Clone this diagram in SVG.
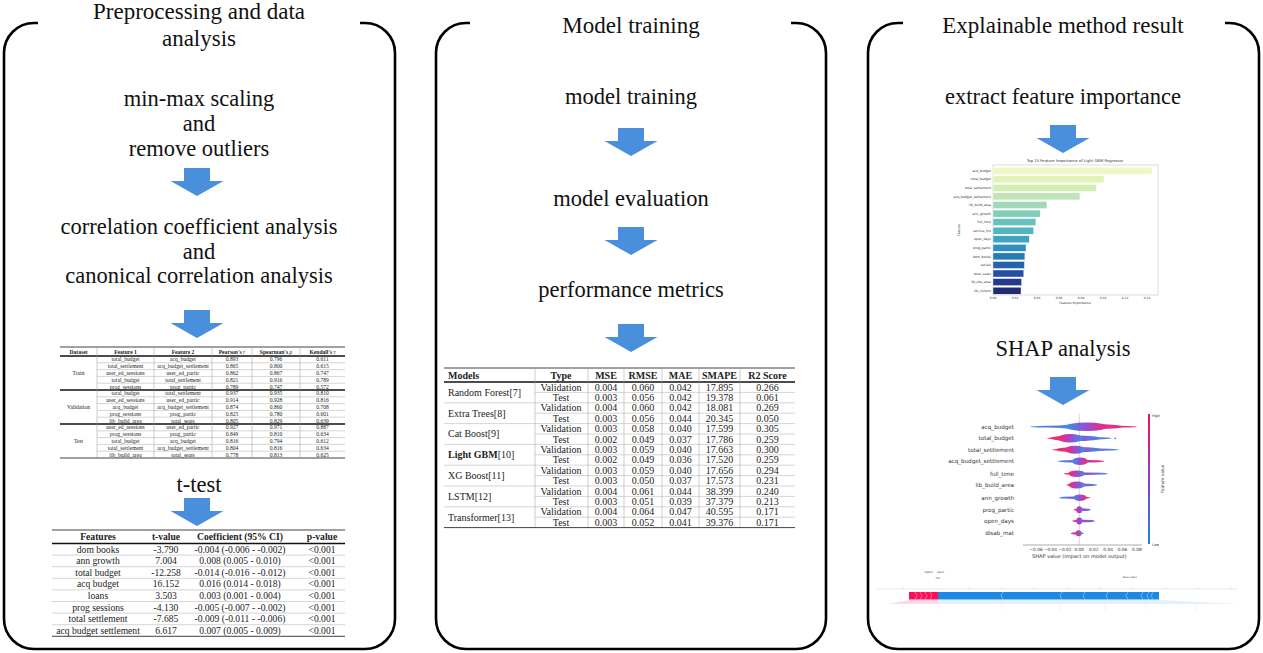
<svg xmlns="http://www.w3.org/2000/svg" width="1263" height="653" viewBox="0 0 1263 653">
<style>
.panel{fill:none;stroke:#000;stroke-width:2.6}
.ttl{font-family:"Liberation Serif",serif;font-size:23px;text-anchor:middle;fill:#111}
.lbl{font-family:"Liberation Serif",serif;font-size:22.5px;text-anchor:middle;fill:#111}
.arrow{fill:#4a8fdc}
.tb{font-family:"Liberation Serif",serif;text-anchor:middle;fill:#222}
.c5{font-size:5.6px}
.c9{font-size:9.6px}
.c10{font-size:10px}
.b{font-weight:bold}
.rule{stroke:#111;stroke-width:0.8}
.thick{stroke:#111;stroke-width:1.6}
.thin{stroke:#aaa;stroke-width:0.5}
.vl{stroke:#999;stroke-width:0.5}
.mp{font-family:"DejaVu Sans",sans-serif;fill:#333}
</style>
<defs>
<path id="arr" d="M -13 0 H 13 V 13 H 26.5 L 0 28 L -26.5 13 H -13 Z"/>
<linearGradient id="gBR" x1="0" x2="1" y1="0" y2="0"><stop offset="0" stop-color="#1e88e5"/><stop offset="0.5" stop-color="#8a3ccf"/><stop offset="1" stop-color="#ff0d57"/></linearGradient>
<linearGradient id="gRB" x1="0" x2="1" y1="0" y2="0"><stop offset="0" stop-color="#ff0d57"/><stop offset="0.5" stop-color="#9b33c4"/><stop offset="1" stop-color="#1e88e5"/></linearGradient>
<linearGradient id="gMX" x1="0" x2="1" y1="0" y2="0"><stop offset="0" stop-color="#e01a6e"/><stop offset="0.5" stop-color="#9b33c4"/><stop offset="1" stop-color="#5a5ee0"/></linearGradient>
<linearGradient id="gCB" x1="0" x2="0" y1="0" y2="1"><stop offset="0" stop-color="#ff0d57"/><stop offset="0.5" stop-color="#8a3ccf"/><stop offset="1" stop-color="#1e88e5"/></linearGradient>
</defs>

<g id="panel-preprocessing">
<path class="panel" d="M 38 23 L 34 23 A 30 30 0 0 0 4 53 L 4 619 A 30 30 0 0 0 34 649 L 365 649 A 30 30 0 0 0 395 619 L 395 53 A 30 30 0 0 0 365 23 L 360 23"/>
<text class="ttl" x="199" y="19">Preprocessing and data</text>
<text class="ttl" x="199" y="46">analysis</text>
</g>
<g id="panel-training">
<path class="panel" d="M 470 23 L 466 23 A 30 30 0 0 0 436 53 L 436 619 A 30 30 0 0 0 466 649 L 796 649 A 30 30 0 0 0 826 619 L 826 53 A 30 30 0 0 0 796 23 L 791 23"/>
<text class="ttl" x="631" y="33">Model training</text>
</g>
<g id="panel-explain">
<path class="panel" d="M 903 23 L 898 23 A 30 30 0 0 0 868 53 L 868 619 A 30 30 0 0 0 898 649 L 1229 649 A 30 30 0 0 0 1259 619 L 1259 53 A 30 30 0 0 0 1229 23 L 1225 23"/>
<text class="ttl" x="1063" y="33">Explainable method result</text>
</g>

<g id="node-minmax"><text class="lbl" x="199" y="106">min-max scaling</text><text class="lbl" x="199" y="131">and</text><text class="lbl" x="199" y="156">remove outliers</text></g>
<g id="node-correlation"><text class="lbl" x="199" y="234">correlation coefficient analysis</text><text class="lbl" x="199" y="259">and</text><text class="lbl" x="199" y="283">canonical correlation analysis</text></g>
<g id="node-ttest"><text class="lbl" x="199" y="492">t-test</text></g>
<g id="node-model-training"><text class="lbl" x="631" y="104">model training</text></g>
<g id="node-model-evaluation"><text class="lbl" x="631" y="206">model evaluation</text></g>
<g id="node-performance"><text class="lbl" x="631" y="297">performance metrics</text></g>
<g id="node-feature-importance"><text class="lbl" x="1063" y="104">extract feature importance</text></g>
<g id="node-shap"><text class="lbl" x="1063" y="356">SHAP analysis</text></g>

<g id="connectors" class="arrow">
<use href="#arr" x="197" y="168"/>
<use href="#arr" x="197" y="310"/>
<use href="#arr" x="197" y="498"/>
<use href="#arr" x="631" y="128"/>
<use href="#arr" x="631" y="227"/>
<use href="#arr" x="631" y="324"/>
<use href="#arr" x="1063" y="125"/>
<use href="#arr" x="1063" y="377"/>
</g>

<g id="table-correlation">
<line class="rule" x1="60" y1="347" x2="345" y2="347"/>
<line class="thick" x1="60" y1="356" x2="345" y2="356"/>
<line class="thick" x1="60" y1="390" x2="345" y2="390"/>
<line class="thick" x1="60" y1="424" x2="345" y2="424"/>
<line class="rule" x1="60" y1="458" x2="345" y2="458"/>
<g class="thin">
<line x1="97" y1="362.8" x2="345" y2="362.8"/><line x1="97" y1="369.6" x2="345" y2="369.6"/><line x1="97" y1="376.4" x2="345" y2="376.4"/><line x1="97" y1="383.2" x2="345" y2="383.2"/>
<line x1="97" y1="396.8" x2="345" y2="396.8"/><line x1="97" y1="403.6" x2="345" y2="403.6"/><line x1="97" y1="410.4" x2="345" y2="410.4"/><line x1="97" y1="417.2" x2="345" y2="417.2"/>
<line x1="97" y1="430.8" x2="345" y2="430.8"/><line x1="97" y1="437.6" x2="345" y2="437.6"/><line x1="97" y1="444.4" x2="345" y2="444.4"/><line x1="97" y1="451.2" x2="345" y2="451.2"/>
</g>
<g class="vl"><line x1="97" y1="347" x2="97" y2="458"/><line x1="154" y1="347" x2="154" y2="458"/><line x1="212" y1="347" x2="212" y2="458"/><line x1="252" y1="347" x2="252" y2="458"/><line x1="300" y1="347" x2="300" y2="458"/></g>
<g class="tb c5 b">
<text x="78.5" y="353.5">Dataset</text><text x="125.5" y="353.5">Feature 1</text><text x="183" y="353.5">Feature 2</text><text x="232" y="353.5">Pearson's <tspan font-style="italic" font-weight="normal">r</tspan></text><text x="276" y="353.5">Spearman's <tspan font-style="italic" font-weight="normal">ρ</tspan></text><text x="322.5" y="353.5">Kendall's <tspan font-style="italic" font-weight="normal">τ</tspan></text>
</g>
<g class="tb c5">
<text x="78.5" y="375">Train</text><text x="78.5" y="409">Validation</text><text x="78.5" y="443">Test</text>
<text x="125.5" y="361.4">total_budget</text><text x="183" y="361.4">acq_budget</text><text x="232" y="361.4">0.893</text><text x="276" y="361.4">0.796</text><text x="322.5" y="361.4">0.611</text>
<text x="125.5" y="368.2">total_settlement</text><text x="183" y="368.2">acq_budget_settlement</text><text x="232" y="368.2">0.865</text><text x="276" y="368.2">0.800</text><text x="322.5" y="368.2">0.615</text>
<text x="125.5" y="375">user_ed_sessions</text><text x="183" y="375">user_ed_partic</text><text x="232" y="375">0.862</text><text x="276" y="375">0.867</text><text x="322.5" y="375">0.747</text>
<text x="125.5" y="381.8">total_budget</text><text x="183" y="381.8">total_settlement</text><text x="232" y="381.8">0.821</text><text x="276" y="381.8">0.916</text><text x="322.5" y="381.8">0.789</text>
<text x="125.5" y="388.6">prog_sessions</text><text x="183" y="388.6">prog_partic</text><text x="232" y="388.6">0.789</text><text x="276" y="388.6">0.747</text><text x="322.5" y="388.6">0.572</text>
<text x="125.5" y="395.4">total_budget</text><text x="183" y="395.4">total_settlement</text><text x="232" y="395.4">0.937</text><text x="276" y="395.4">0.935</text><text x="322.5" y="395.4">0.810</text>
<text x="125.5" y="402.2">user_ed_sessions</text><text x="183" y="402.2">user_ed_partic</text><text x="232" y="402.2">0.914</text><text x="276" y="402.2">0.928</text><text x="322.5" y="402.2">0.816</text>
<text x="125.5" y="409">acq_budget</text><text x="183" y="409">acq_budget_settlement</text><text x="232" y="409">0.874</text><text x="276" y="409">0.860</text><text x="322.5" y="409">0.708</text>
<text x="125.5" y="415.8">prog_sessions</text><text x="183" y="415.8">prog_partic</text><text x="232" y="415.8">0.825</text><text x="276" y="415.8">0.780</text><text x="322.5" y="415.8">0.601</text>
<text x="125.5" y="422.6">lib_build_area</text><text x="183" y="422.6">total_seats</text><text x="232" y="422.6">0.805</text><text x="276" y="422.6">0.829</text><text x="322.5" y="422.6">0.639</text>
<text x="125.5" y="429.4">user_ed_sessions</text><text x="183" y="429.4">user_ed_partic</text><text x="232" y="429.4">0.927</text><text x="276" y="429.4">0.971</text><text x="322.5" y="429.4">0.887</text>
<text x="125.5" y="436.2">prog_sessions</text><text x="183" y="436.2">prog_partic</text><text x="232" y="436.2">0.849</text><text x="276" y="436.2">0.810</text><text x="322.5" y="436.2">0.634</text>
<text x="125.5" y="443">total_budget</text><text x="183" y="443">acq_budget</text><text x="232" y="443">0.816</text><text x="276" y="443">0.794</text><text x="322.5" y="443">0.612</text>
<text x="125.5" y="449.8">total_settlement</text><text x="183" y="449.8">acq_budget_settlement</text><text x="232" y="449.8">0.804</text><text x="276" y="449.8">0.816</text><text x="322.5" y="449.8">0.634</text>
<text x="125.5" y="456.6">lib_build_area</text><text x="183" y="456.6">total_seats</text><text x="232" y="456.6">0.778</text><text x="276" y="456.6">0.813</text><text x="322.5" y="456.6">0.625</text>
</g>
</g>

<g id="table-ttest">
<line class="rule" x1="52" y1="530" x2="345" y2="530"/>
<line class="thick" x1="52" y1="543.5" x2="345" y2="543.5"/>
<g class="thin"><line x1="52" y1="555.1" x2="345" y2="555.1"/><line x1="52" y1="566.7" x2="345" y2="566.7"/><line x1="52" y1="578.3" x2="345" y2="578.3"/><line x1="52" y1="589.9" x2="345" y2="589.9"/><line x1="52" y1="601.5" x2="345" y2="601.5"/><line x1="52" y1="613.1" x2="345" y2="613.1"/><line x1="52" y1="624.7" x2="345" y2="624.7"/></g>
<line class="rule" x1="52" y1="636.3" x2="345" y2="636.3" stroke="#888"/>
<g class="tb c9 b"><text x="98" y="540.3">Features</text><text x="166" y="540.3">t-value</text><text x="240" y="540.3">Coefficient (95% CI)</text><text x="322" y="540.3">p-value</text></g>
<g class="tb c9">
<text x="98" y="552.6">dom books</text><text x="166" y="552.6">-3.790</text><text x="240" y="552.6">-0.004 (-0.006 - -0.002)</text><text x="322" y="552.6">&lt;0.001</text>
<text x="98" y="564.2">ann growth</text><text x="166" y="564.2">7.004</text><text x="240" y="564.2">0.008 (0.005 - 0.010)</text><text x="322" y="564.2">&lt;0.001</text>
<text x="98" y="575.8">total budget</text><text x="166" y="575.8">-12.258</text><text x="240" y="575.8">-0.014 (-0.016 - -0.012)</text><text x="322" y="575.8">&lt;0.001</text>
<text x="98" y="587.4">acq budget</text><text x="166" y="587.4">16.152</text><text x="240" y="587.4">0.016 (0.014 - 0.018)</text><text x="322" y="587.4">&lt;0.001</text>
<text x="98" y="599">loans</text><text x="166" y="599">3.503</text><text x="240" y="599">0.003 (0.001 - 0.004)</text><text x="322" y="599">&lt;0.001</text>
<text x="98" y="610.6">prog sessions</text><text x="166" y="610.6">-4.130</text><text x="240" y="610.6">-0.005 (-0.007 - -0.002)</text><text x="322" y="610.6">&lt;0.001</text>
<text x="98" y="622.2">total settlement</text><text x="166" y="622.2">-7.685</text><text x="240" y="622.2">-0.009 (-0.011 - -0.006)</text><text x="322" y="622.2">&lt;0.001</text>
<text x="98" y="633.8">acq budget settlement</text><text x="166" y="633.8">6.617</text><text x="240" y="633.8">0.007 (0.005 - 0.009)</text><text x="322" y="633.8">&lt;0.001</text>
</g>
</g>

<g id="table-metrics">
<line class="rule" x1="444" y1="368" x2="795" y2="368"/>
<line class="thick" x1="444" y1="382" x2="795" y2="382"/>
<g class="vl"><line x1="535" y1="368" x2="535" y2="527.6"/><line x1="588" y1="368" x2="588" y2="527.6"/><line x1="624" y1="368" x2="624" y2="527.6"/><line x1="662" y1="368" x2="662" y2="527.6"/><line x1="699" y1="368" x2="699" y2="527.6"/><line x1="740" y1="368" x2="740" y2="527.6"/></g>
<g class="thin">
<line x1="535" y1="392.4" x2="795" y2="392.4"/><line x1="444" y1="402.8" x2="795" y2="402.8"/>
<line x1="535" y1="413.2" x2="795" y2="413.2"/><line x1="444" y1="423.6" x2="795" y2="423.6"/>
<line x1="535" y1="434" x2="795" y2="434"/><line x1="444" y1="444.4" x2="795" y2="444.4"/>
<line x1="535" y1="454.8" x2="795" y2="454.8"/><line x1="444" y1="465.2" x2="795" y2="465.2"/>
<line x1="535" y1="475.6" x2="795" y2="475.6"/><line x1="444" y1="486" x2="795" y2="486"/>
<line x1="535" y1="496.4" x2="795" y2="496.4"/><line x1="444" y1="506.8" x2="795" y2="506.8"/>
<line x1="535" y1="517.2" x2="795" y2="517.2"/>
</g>
<line class="rule" x1="444" y1="527.6" x2="795" y2="527.6" stroke="#888"/>
<g class="tb c10 b"><text x="448" y="379" text-anchor="start">Models</text><text x="561" y="379">Type</text><text x="606" y="379">MSE</text><text x="643" y="379">RMSE</text><text x="680.5" y="379">MAE</text><text x="719.5" y="379">SMAPE</text><text x="767.5" y="379">R2 Score</text></g>
<g class="tb c10" text-anchor="start">
<text x="448" y="395.8" text-anchor="start">Random Forest[7]</text>
<text x="448" y="416.6" text-anchor="start">Extra Trees[8]</text>
<text x="448" y="437.4" text-anchor="start">Cat Boost[9]</text>
<text x="448" y="458.2" text-anchor="start"><tspan font-weight="bold">Light GBM</tspan>[10]</text>
<text x="448" y="479" text-anchor="start">XG Boost[11]</text>
<text x="448" y="499.8" text-anchor="start">LSTM[12]</text>
<text x="448" y="520.6" text-anchor="start">Transformer[13]</text>
</g>
<g class="tb c10">
<text x="561" y="390.6">Validation</text><text x="606" y="390.6">0.004</text><text x="643" y="390.6">0.060</text><text x="680.5" y="390.6">0.042</text><text x="719.5" y="390.6">17.895</text><text x="767.5" y="390.6">0.266</text>
<text x="561" y="401">Test</text><text x="606" y="401">0.003</text><text x="643" y="401">0.056</text><text x="680.5" y="401">0.042</text><text x="719.5" y="401">19.378</text><text x="767.5" y="401">0.061</text>
<text x="561" y="411.4">Validation</text><text x="606" y="411.4">0.004</text><text x="643" y="411.4">0.060</text><text x="680.5" y="411.4">0.042</text><text x="719.5" y="411.4">18.081</text><text x="767.5" y="411.4">0.269</text>
<text x="561" y="421.8">Test</text><text x="606" y="421.8">0.003</text><text x="643" y="421.8">0.056</text><text x="680.5" y="421.8">0.044</text><text x="719.5" y="421.8">20.345</text><text x="767.5" y="421.8">0.050</text>
<text x="561" y="432.2">Validation</text><text x="606" y="432.2">0.003</text><text x="643" y="432.2">0.058</text><text x="680.5" y="432.2">0.040</text><text x="719.5" y="432.2">17.599</text><text x="767.5" y="432.2">0.305</text>
<text x="561" y="442.6">Test</text><text x="606" y="442.6">0.002</text><text x="643" y="442.6">0.049</text><text x="680.5" y="442.6">0.037</text><text x="719.5" y="442.6">17.786</text><text x="767.5" y="442.6">0.259</text>
<text x="561" y="453">Validation</text><text x="606" y="453">0.003</text><text x="643" y="453">0.059</text><text x="680.5" y="453">0.040</text><text x="719.5" y="453">17.663</text><text x="767.5" y="453">0.300</text>
<text x="561" y="463.4">Test</text><text x="606" y="463.4">0.002</text><text x="643" y="463.4">0.049</text><text x="680.5" y="463.4">0.036</text><text x="719.5" y="463.4">17.520</text><text x="767.5" y="463.4">0.259</text>
<text x="561" y="473.8">Validation</text><text x="606" y="473.8">0.003</text><text x="643" y="473.8">0.059</text><text x="680.5" y="473.8">0.040</text><text x="719.5" y="473.8">17.656</text><text x="767.5" y="473.8">0.294</text>
<text x="561" y="484.2">Test</text><text x="606" y="484.2">0.003</text><text x="643" y="484.2">0.050</text><text x="680.5" y="484.2">0.037</text><text x="719.5" y="484.2">17.573</text><text x="767.5" y="484.2">0.231</text>
<text x="561" y="494.6">Validation</text><text x="606" y="494.6">0.004</text><text x="643" y="494.6">0.061</text><text x="680.5" y="494.6">0.044</text><text x="719.5" y="494.6">38.399</text><text x="767.5" y="494.6">0.240</text>
<text x="561" y="505">Test</text><text x="606" y="505">0.003</text><text x="643" y="505">0.051</text><text x="680.5" y="505">0.039</text><text x="719.5" y="505">37.379</text><text x="767.5" y="505">0.213</text>
<text x="561" y="515.4">Validation</text><text x="606" y="515.4">0.004</text><text x="643" y="515.4">0.064</text><text x="680.5" y="515.4">0.047</text><text x="719.5" y="515.4">40.595</text><text x="767.5" y="515.4">0.171</text>
<text x="561" y="525.8">Test</text><text x="606" y="525.8">0.003</text><text x="643" y="525.8">0.052</text><text x="680.5" y="525.8">0.041</text><text x="719.5" y="525.8">39.376</text><text x="767.5" y="525.8">0.171</text>
</g>
</g>

<g id="chart-feature-importance">
<text class="mp" x="1075" y="162" font-size="3.8" text-anchor="middle">Top 15 Feature Importance of Light GBM Regressor</text>
<rect x="993" y="165" width="165" height="130" fill="#fff" stroke="#bbb" stroke-width="0.5"/>
<g stroke="#fff" stroke-width="0.4">
<rect x="993" y="167.2" width="159" height="7" fill="#eef8c4"/>
<rect x="993" y="175.8" width="111" height="7" fill="#e2f3b7"/>
<rect x="993" y="184.4" width="103.4" height="7" fill="#d3eeb3"/>
<rect x="993" y="192.9" width="86.9" height="7" fill="#bde5b5"/>
<rect x="993" y="201.5" width="53.9" height="7" fill="#a0d8b8"/>
<rect x="993" y="210.1" width="47.3" height="7" fill="#85cdbb"/>
<rect x="993" y="218.6" width="42.9" height="7" fill="#6ac2be"/>
<rect x="993" y="227.2" width="40.7" height="7" fill="#52b5c1"/>
<rect x="993" y="235.8" width="36.3" height="7" fill="#3ea4c2"/>
<rect x="993" y="244.3" width="33" height="7" fill="#2f8fbe"/>
<rect x="993" y="252.9" width="31.9" height="7" fill="#2879b5"/>
<rect x="993" y="261.5" width="31.4" height="7" fill="#2563ac"/>
<rect x="993" y="270" width="30.8" height="7" fill="#254ea0"/>
<rect x="993" y="278.6" width="28.6" height="7" fill="#243a8e"/>
<rect x="993" y="287.2" width="28" height="7" fill="#1f2c6d"/>
</g>
<g class="mp" font-size="3.2" text-anchor="end">
<text x="991" y="171.8">acq_budget</text><text x="991" y="180.4">total_budget</text><text x="991" y="189">total_settlement</text><text x="991" y="197.5">acq_budget_settlement</text><text x="991" y="206.1">lib_build_area</text><text x="991" y="214.7">ann_growth</text><text x="991" y="223.2">full_time</text><text x="991" y="231.8">service_hrs</text><text x="991" y="240.4">open_days</text><text x="991" y="248.9">prog_partic</text><text x="991" y="257.5">dom_books</text><text x="991" y="266.1">serials</text><text x="991" y="274.6">total_seats</text><text x="991" y="283.2">lib_site_area</text><text x="991" y="291.8">lib_visitors</text>
</g>
<g class="mp" font-size="3" text-anchor="middle">
<text x="993" y="299">0.00</text><text x="1015" y="299">0.02</text><text x="1037" y="299">0.04</text><text x="1059" y="299">0.06</text><text x="1081" y="299">0.08</text><text x="1103" y="299">0.10</text><text x="1125" y="299">0.12</text><text x="1147" y="299">0.14</text>
</g>
<text class="mp" x="1075" y="303.5" font-size="3.2" text-anchor="middle">Feature Importance</text>
<text class="mp" x="960" y="230" font-size="3.2" text-anchor="middle" transform="rotate(-90 960 230)">Feature</text>
</g>

<g id="chart-shap">
<line x1="1079.3" y1="414" x2="1079.3" y2="545" stroke="#bbb" stroke-width="0.6"/>
<g class="mp" font-size="5.6" text-anchor="end">
<text x="1014" y="428.7">acq_budget</text><text x="1014" y="440.3">total_budget</text><text x="1014" y="451.7">total_settlement</text><text x="1014" y="463.3">acq_budget_settlement</text><text x="1014" y="475.7">full_time</text><text x="1014" y="487">lib_build_area</text><text x="1014" y="499.7">ann_growth</text><text x="1014" y="511.7">prog_partic</text><text x="1014" y="523">open_days</text><text x="1014" y="535.3">disab_mat</text>
</g>
<g opacity="0.9">
<ellipse cx="1083.6" cy="426.7" rx="53.3" ry="1.3" fill="url(#gBR)"/>
<ellipse cx="1090.1" cy="426.7" rx="32.4" ry="2.6" fill="url(#gBR)"/>
<ellipse cx="1086.5" cy="426.7" rx="21.6" ry="4.2" fill="url(#gBR)"/>
<ellipse cx="1079.3" cy="438.3" rx="32.4" ry="1.4" fill="url(#gRB)"/>
<ellipse cx="1075.7" cy="438.3" rx="25.2" ry="2.8" fill="url(#gRB)"/>
<ellipse cx="1070.3" cy="438.3" rx="12.6" ry="4.3" fill="url(#gRB)"/>
<circle cx="1115.3" cy="438.3" r="0.9" fill="#1e88e5"/>
<ellipse cx="1085.4" cy="449.7" rx="33.5" ry="1.3" fill="url(#gRB)"/>
<ellipse cx="1078.6" cy="449.7" rx="22.3" ry="2.6" fill="url(#gRB)"/>
<ellipse cx="1075" cy="449.7" rx="10.1" ry="4" fill="url(#gRB)"/>
<ellipse cx="1081.1" cy="461.3" rx="23.4" ry="1.4" fill="url(#gBR)"/>
<ellipse cx="1080" cy="461.3" rx="7.9" ry="3.8" fill="url(#gBR)"/>
<ellipse cx="1085.8" cy="473.7" rx="22.3" ry="1.3" fill="url(#gRB)"/>
<ellipse cx="1076.8" cy="473.7" rx="8.3" ry="3.3" fill="url(#gRB)"/>
<ellipse cx="1081.8" cy="485" rx="15.5" ry="1.5" fill="url(#gRB)"/>
<ellipse cx="1076.8" cy="485" rx="8.3" ry="3.5" fill="url(#gRB)"/>
<ellipse cx="1074.6" cy="497.7" rx="15.5" ry="1.3" fill="url(#gBR)"/>
<ellipse cx="1080" cy="497.7" rx="6.5" ry="3.3" fill="url(#gBR)"/>
<ellipse cx="1082.2" cy="509.7" rx="8.6" ry="1.4" fill="url(#gMX)"/>
<ellipse cx="1079.3" cy="509.7" rx="3" ry="3.5" fill="url(#gMX)"/>
<ellipse cx="1083.6" cy="521" rx="11.5" ry="1.3" fill="url(#gMX)"/>
<ellipse cx="1079.3" cy="521" rx="3" ry="3.4" fill="url(#gMX)"/>
<ellipse cx="1077.2" cy="533.3" rx="6.5" ry="1.3" fill="url(#gMX)"/>
<ellipse cx="1078.6" cy="533.3" rx="3" ry="3" fill="url(#gMX)"/>
</g>
<line x1="1023" y1="545" x2="1142" y2="545" stroke="#555" stroke-width="0.5"/>
<g class="mp" font-size="4.3" text-anchor="middle">
<text x="1036.1" y="551">−0.06</text><text x="1050.5" y="551">−0.04</text><text x="1064.9" y="551">−0.02</text><text x="1079.3" y="551">0.00</text><text x="1093.7" y="551">0.02</text><text x="1108.1" y="551">0.04</text><text x="1122.5" y="551">0.06</text><text x="1136.9" y="551">0.08</text>
</g>
<text class="mp" x="1079.3" y="558" font-size="5" text-anchor="middle">SHAP value (impact on model output)</text>
<rect x="1148" y="414" width="2" height="130" fill="url(#gCB)"/>
<text class="mp" x="1152" y="416.5" font-size="3.5">High</text>
<text class="mp" x="1152" y="545.5" font-size="3.5">Low</text>
<text class="mp" x="1164" y="479" font-size="4.2" text-anchor="middle" transform="rotate(-90 1164 479)">Feature value</text>
</g>

<g id="chart-force-plot">
<text class="mp" x="933" y="573" font-size="2.6" text-anchor="end" fill="#ff0d57">higher</text>
<text class="mp" x="937" y="573" font-size="2.6" fill="#1e88e5">lower</text>
<text class="mp" x="938" y="578.5" font-size="2.6" text-anchor="middle">f(x)</text>
<text class="mp" x="1130" y="577.5" font-size="2.6" text-anchor="middle">base value</text>
<line x1="877" y1="589" x2="1237" y2="589" stroke="#ccc" stroke-width="0.5"/>
<g stroke="#ccc" stroke-width="0.4"><line x1="903" y1="587" x2="903" y2="589"/><line x1="936" y1="587" x2="936" y2="589"/><line x1="969" y1="587" x2="969" y2="589"/><line x1="1002" y1="587" x2="1002" y2="589"/><line x1="1034" y1="587" x2="1034" y2="589"/><line x1="1067" y1="587" x2="1067" y2="589"/><line x1="1100" y1="587" x2="1100" y2="589"/><line x1="1133" y1="587" x2="1133" y2="589"/><line x1="1166" y1="587" x2="1166" y2="589"/><line x1="1198" y1="587" x2="1198" y2="589"/><line x1="1231" y1="587" x2="1231" y2="589"/></g>
<path d="M 938 600 L 909 600 L 888 604 L 938 604 Z" fill="#ff0d57" opacity="0.15"/>
<path d="M 938 600 L 1159 600 L 1238 604 L 938 604 Z" fill="#1e88e5" opacity="0.12"/>
<rect x="909" y="592" width="29" height="7.5" fill="#ff0d57"/>
<rect x="938" y="592" width="221" height="7.5" fill="#1e88e5"/>
<g fill="none" stroke="#ffc3d5" stroke-width="0.5"><path d="M 915 592 l 2 3.75 l -2 3.75"/><path d="M 920 592 l 2 3.75 l -2 3.75"/><path d="M 925 592 l 2 3.75 l -2 3.75"/><path d="M 930 592 l 2 3.75 l -2 3.75"/></g>
<g fill="none" stroke="#c5dff8" stroke-width="0.5"><path d="M 1003 592 l -2 3.75 l 2 3.75"/><path d="M 1062 592 l -2 3.75 l 2 3.75"/><path d="M 1085 592 l -2 3.75 l 2 3.75"/><path d="M 1108 592 l -2 3.75 l 2 3.75"/><path d="M 1128 592 l -2 3.75 l 2 3.75"/><path d="M 1143 592 l -2 3.75 l 2 3.75"/><path d="M 1149 592 l -2 3.75 l 2 3.75"/><path d="M 1153 592 l -2 3.75 l 2 3.75"/></g>
<g stroke="#dde" stroke-width="0.3"><line x1="938" y1="600" x2="938" y2="611"/><line x1="1002" y1="603" x2="1002" y2="611"/><line x1="1060" y1="603" x2="1060" y2="611"/><line x1="1105" y1="603" x2="1105" y2="611"/><line x1="1146" y1="603" x2="1146" y2="611"/><line x1="1196" y1="603" x2="1196" y2="611"/></g>
</g>
</svg>
